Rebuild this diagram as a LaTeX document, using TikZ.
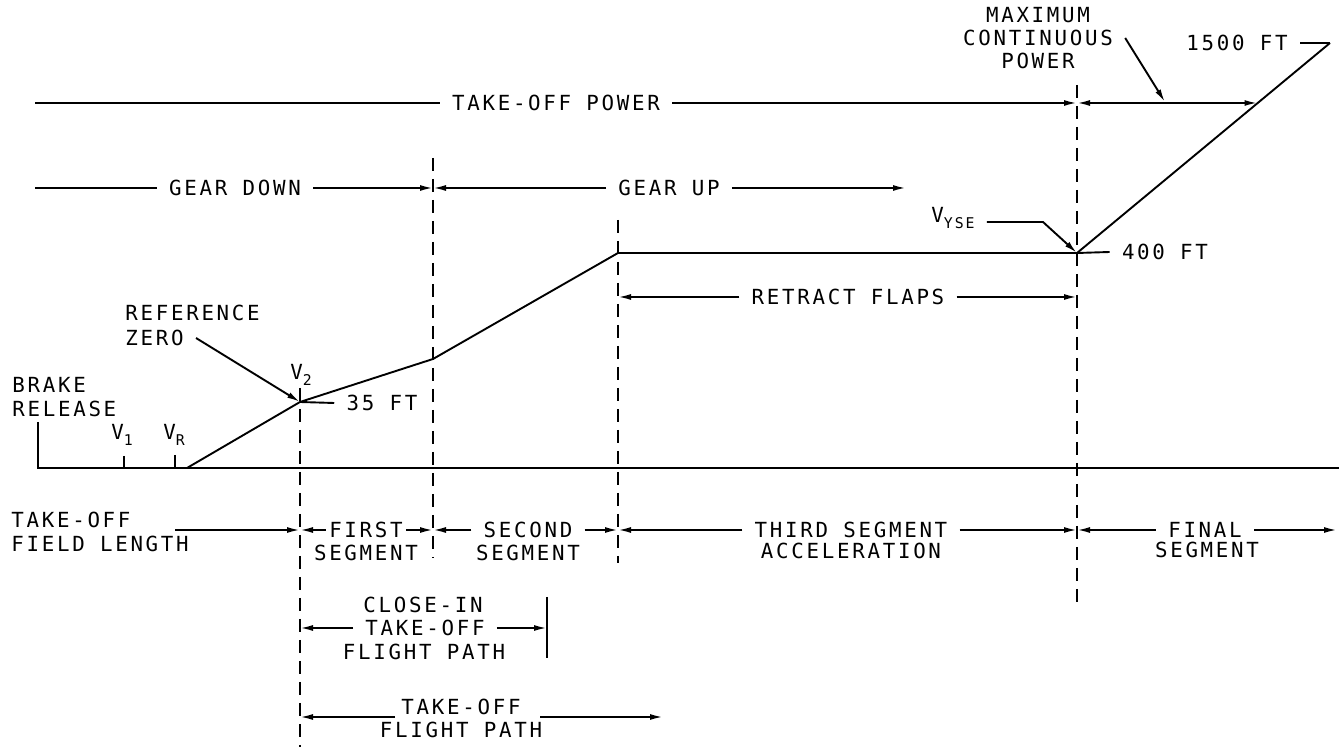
\documentclass[tikz,border=0pt]{standalone}
\usepackage{fontspec}
\newfontfamily\cadfont{DejaVu Sans Mono}[LetterSpace=13]
\usetikzlibrary{arrows.meta}
\newcommand{\cadsub}[1]{\raisebox{-0.55ex}{\fontsize{7.4}{8}\selectfont #1}}
\tikzset{
  ln/.style={line width=0.95pt},
  arr/.style={line width=0.95pt,-{Latex[length=6.5pt,width=3pt]}},
  darr/.style={line width=0.95pt,{Latex[length=6.5pt,width=3pt]}-{Latex[length=6.5pt,width=3pt]}},
  dline/.style={line width=0.75pt,dash pattern=on 6.5pt off 4pt},
  tick/.style={line width=0.7pt},
  lbl/.style={inner xsep=6pt,inner ysep=1pt,font=\cadfont\fontsize{10.4}{11.6}\selectfont},
  tlbl/.style={lbl,inner xsep=1.5pt},
}
\begin{document}
\begin{tikzpicture}[x=0.5pt,y=-0.5pt]
\useasboundingbox (0,0) rectangle (1339,747);
% key points of the flight path
\coordinate (BR) at (38,422);
\coordinate (G0) at (38,468);
\coordinate (GE) at (1339,468);
\coordinate (LO) at (187,468);
\coordinate (P35) at (300,402);
\coordinate (P2) at (433,359);
\coordinate (P3) at (618,253);
\coordinate (P4) at (1077,253);
\coordinate (P5) at (1330,43);
% dashed verticals
\coordinate (D1t) at (300,388); \coordinate (D1b) at (300,747);
\coordinate (D2t) at (433,158); \coordinate (D2b) at (433,558);
\coordinate (D3t) at (618,220); \coordinate (D3b) at (618,563);
\coordinate (D4t) at (1077,85); \coordinate (D4b) at (1077,608);
\draw[dline] (D1t) -- (D1b);
\draw[dline] (D2t) -- (D2b);
\draw[dline] (D3t) -- (D3b);
\draw[dline] (D4t) -- (D4b);
% ground and path
\draw[ln] (BR) -- (G0) -- (GE);
\draw[ln] (LO) -- (P35) -- (P2) -- (P3) -- (P4) -- (P5);
% V1, VR ticks
\coordinate (V1t) at (124,456); \coordinate (V1b) at (124,468);
\coordinate (VRt) at (175,455); \coordinate (VRb) at (175,468);
\draw[tick] (V1t) -- (V1b);
\draw[tick] (VRt) -- (VRb);
\node[lbl] (v1) at (122,435) {V\cadsub{1}};
\node[lbl] (vr) at (174,435) {V\cadsub{R}};
\node[lbl] (v2) at (301,375) {V\cadsub{2}};
\node[lbl,anchor=west,align=left] (brake) at (0,397) {BRAKE\\RELEASE};
% reference zero
\node[lbl,anchor=west] (ref) at (113,313) {REFERENCE};
\node[lbl,anchor=west] (zero) at (113,338) {ZERO};
\draw[arr] (zero.east) -- (P35);
\node[lbl] (f35) at (382,403) {35 FT};
\draw[ln] (P35) -- (f35.west);
% take-off power row
\node[lbl] (tpow) at (556,103) {TAKE-OFF POWER};
\coordinate (TPL) at (35,103);
\coordinate (TPR) at (1077,103);
\coordinate (MCR) at (1257.5,103);
\draw[ln] (TPL) -- (tpow.west);
\draw[arr] (tpow.east) -- (TPR);
\draw[darr] (TPR) -- (MCR);
\node[lbl,align=center] (mcp) at (1038,38) {MAXIMUM\\CONTINUOUS\\POWER};
\coordinate (MCA) at (1165,102);
\draw[arr] (mcp.east) -- (MCA);
\node[lbl] (f1500) at (1237,43) {1500 FT};
\draw[ln] (f1500.east) -- (P5);
% gear row
\coordinate (GL) at (35,188);
\coordinate (GM) at (433,188);
\coordinate (GR) at (906,188);
\node[lbl] (gdn) at (235,188) {GEAR DOWN};
\node[lbl] (gup) at (669,188) {GEAR UP};
\draw[ln] (GL) -- (gdn.west);
\draw[arr] (gdn.east) -- (GM);
\draw[arr] (gup.west) -- (GM);
\draw[arr] (gup.east) -- (GR);
% VYSE and 400 FT
\node[lbl] (vyse) at (953,218) {V\cadsub{YSE}};
\coordinate (VK) at (1043,222);
\draw[arr] (vyse.east |- VK) -- (VK) -- (P4);
\node[lbl] (f400) at (1165,252) {400 FT};
\draw[ln] (P4) -- (f400.west);
% retract flaps
\node[lbl] (rf) at (848,297) {RETRACT FLAPS};
\coordinate (RL) at (618,297);
\coordinate (RR) at (1077,297);
\draw[arr] (rf.west) -- (RL);
\draw[arr] (rf.east) -- (RR);
% segment row
\coordinate (TFa) at (175,530);
\coordinate (S1) at (300,530);
\coordinate (S2) at (433,530);
\coordinate (S3) at (618,530);
\coordinate (S4) at (1077,530);
\coordinate (S5) at (1337,530);
\node[lbl,anchor=west,align=left] (tofl) at (-1,532) {TAKE-OFF\\FIELD LENGTH};
\draw[arr] (TFa) -- (S1);
\node[tlbl] (first) at (366,530) {FIRST};
\node[lbl] (firstb) at (366,553) {SEGMENT};
\draw[arr] (first.west) -- (S1);
\draw[arr] (first.east) -- (S2);
\node[lbl] (second) at (528,530) {SECOND};
\node[lbl] (secondb) at (528,553) {SEGMENT};
\draw[arr] (second.west) -- (S2);
\draw[arr] (second.east) -- (S3);
\node[lbl] (third) at (851,530) {THIRD SEGMENT};
\node[lbl] (thirdb) at (851,551) {ACCELERATION};
\draw[arr] (third.west) -- (S3);
\draw[arr] (third.east) -- (S4);
\node[lbl] (final) at (1205,530) {FINAL};
\node[lbl] (finalb) at (1207,550) {SEGMENT};
\draw[arr] (final.west) -- (S4);
\draw[arr] (final.east) -- (S5);
% close-in take-off flight path
\node[lbl] (ci1) at (423,605) {CLOSE-IN};
\node[lbl] (ci2) at (425,628) {TAKE-OFF};
\node[lbl] (ci3) at (424,652) {FLIGHT PATH};
\coordinate (CL) at (300,628);
\coordinate (CR) at (547,628);
\coordinate (CBt) at (547,597);
\coordinate (CBb) at (547,658);
\draw[arr] (ci2.west) -- (CL);
\draw[arr] (ci2.east) -- (CR);
\draw[ln] (CBt) -- (CBb);
% take-off flight path
\node[lbl] (tf1) at (461,707) {TAKE-OFF};
\node[lbl] (tf2) at (461,730) {FLIGHT PATH};
\coordinate (TL1) at (395,717);
\coordinate (TL0) at (300,717);
\coordinate (TR1) at (540,717);
\coordinate (TR0) at (663,717);
\draw[arr] (TL1) -- (TL0);
\draw[arr] (TR1) -- (TR0);
\end{tikzpicture}
\end{document}
